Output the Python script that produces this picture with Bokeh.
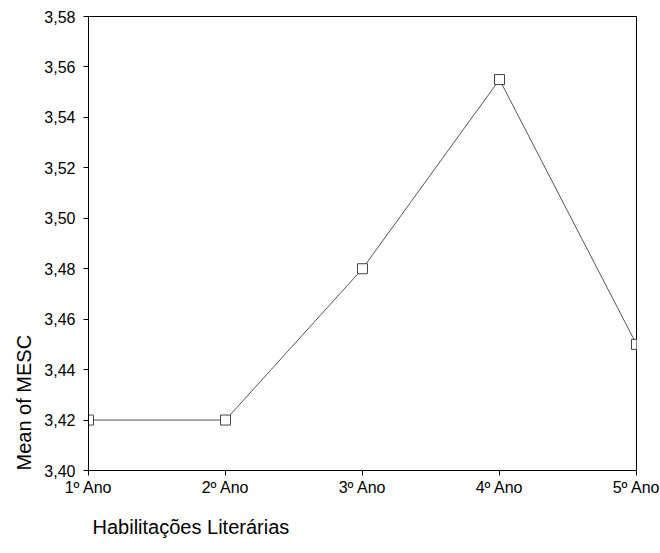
from bokeh.plotting import figure
from bokeh.models import Range1d, FixedTicker, CustomJSTickFormatter, Title, ColumnDataSource
from bokeh.embed import file_html
from bokeh.resources import INLINE

categories = ["1º Ano", "2º Ano", "3º Ano", "4º Ano", "5º Ano"]
mean_mesc = [3.420, 3.420, 3.480, 3.555, 3.450]
y_ticks = [3.40, 3.42, 3.44, 3.46, 3.48, 3.50, 3.52, 3.54, 3.56, 3.58]

xs = list(range(len(categories)))
src = ColumnDataSource(dict(x=xs, y=mean_mesc))

FONT = "Liberation Sans"

p = figure(width=660, height=553, output_backend="svg", toolbar_location=None,
           x_range=Range1d(0, len(categories) - 1), y_range=Range1d(y_ticks[0], y_ticks[-1]),
           min_border_left=88, min_border_right=24, min_border_top=16, min_border_bottom=83)
p.grid.visible = False
p.outline_line_color = "black"
p.outline_line_width = 1
p.background_fill_color = "white"
p.border_fill_color = "white"

p.xaxis.ticker = FixedTicker(ticks=xs)
p.xaxis.major_label_overrides = {i: c for i, c in enumerate(categories)}
p.yaxis.ticker = FixedTicker(ticks=y_ticks)
p.yaxis.formatter = CustomJSTickFormatter(code="return tick.toFixed(2).replace('.', ',');")
for ax in (p.xaxis[0], p.yaxis[0]):
    ax.axis_line_color = "black"
    ax.major_tick_line_color = "black"
    ax.major_tick_out = 5
    ax.major_tick_in = 0
    ax.minor_tick_line_color = None
    ax.major_label_text_font = FONT
    ax.major_label_text_font_size = "16px"
    ax.major_label_text_color = "black"
p.xaxis.major_label_standoff = 3
p.yaxis.major_label_standoff = 8

p.line("x", "y", source=src, line_color="#555555", line_width=1)
p.scatter("x", "y", source=src, marker="square", size=10, line_color="#444444",
          fill_color="white", line_width=1)

p.add_layout(Title(text="Mean of MESC", align="left", offset=0, standoff=14,
                   text_font=FONT, text_font_size="20px", text_font_style="normal",
                   text_color="black"), "left")
p.add_layout(Title(text="Habilitações Literárias", align="left", offset=4, standoff=31,
                   text_font=FONT, text_font_size="20px", text_font_style="normal",
                   text_color="black"), "below")

open("out.html", "w").write(file_html(p, INLINE))
